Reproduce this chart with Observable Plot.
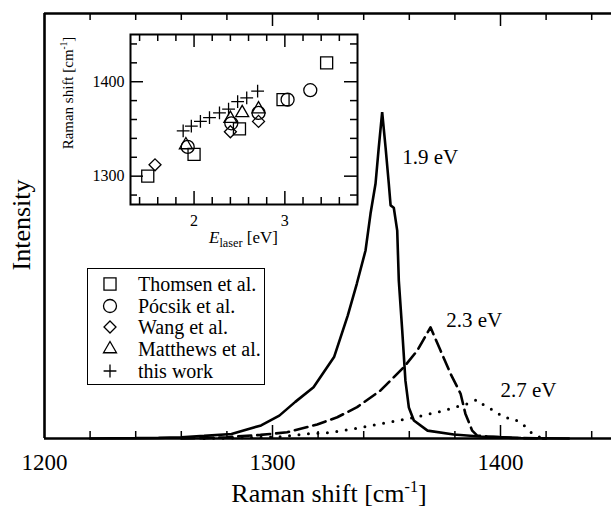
<!DOCTYPE html>
<html><head><meta charset="utf-8">
<script src="https://cdn.jsdelivr.net/npm/d3@7"></script>
<script src="https://cdn.jsdelivr.net/npm/@observablehq/plot@0.6"></script>
<style>
html,body{margin:0;padding:0;background:#fff;overflow:hidden;}
#wrap{position:relative;width:611px;height:512px;overflow:hidden;font-family:"Liberation Serif","Times New Roman",serif;color:#000;}
#wrap > svg{position:absolute;}
.lbl{position:absolute;white-space:nowrap;line-height:1;font-family:"Liberation Serif","Times New Roman",serif;}
.sup{font-size:0.62em;position:relative;top:-0.62em;}
.sub{font-size:0.72em;position:relative;top:0.3em;}
#legend{position:absolute;box-sizing:border-box;border:1.5px solid #000;background:#fff;}
.lrow{position:absolute;white-space:nowrap;line-height:1;font-size:20px;font-family:"Liberation Serif","Times New Roman",serif;}
</style></head><body><div id="wrap"></div>
<script>
// ---------------- data: main spectra (Raman shift in cm^-1, intensity a.u.) ----------------
const shift19 = [1220,1240,1250,1260,1270,1282,1295,1303,1310,1318,1327,1333,1337,1340.8,1343,1345.2,1346.6,1348.1,1349.6,1351,1351.8,1353.2,1354.7,1355.4,1356.9,1358.3,1359.8,1362,1368,1379.5,1391,1409,1430];
const int19   = [0,0.001,0.002,0.004,0.008,0.014,0.040,0.070,0.112,0.157,0.249,0.376,0.474,0.575,0.688,0.780,0.890,0.998,0.890,0.780,0.713,0.706,0.636,0.483,0.330,0.177,0.095,0.055,0.024,0.012,0.006,0.0015,0];

const shift23 = [1260,1270,1280,1294.7,1306.4,1319.6,1328.4,1337.1,1347.4,1357.6,1363.5,1369.3,1373.7,1378.1,1382.5,1384.6,1387.6,1389.8,1394.2,1405,1420];
const int23   = [0,0.001,0.004,0.011,0.019,0.043,0.065,0.096,0.147,0.218,0.269,0.340,0.269,0.198,0.137,0.076,0.024,0.009,0.006,0.002,0];

const shift27 = [1270,1280,1290,1303.5,1315.2,1325.4,1340,1359,1372.2,1385.4,1389.8,1393.4,1397.1,1401.4,1405.8,1409.9,1412.9,1416.2,1420];
const int27   = [0,0.001,0.003,0.005,0.014,0.018,0.035,0.060,0.080,0.106,0.119,0.098,0.086,0.064,0.061,0.043,0.021,0.006,0];

const peakLabels = ["1.9 eV","2.3 eV","2.7 eV"];
const peakLabelX = [1356.9,1376.2,1400];
const peakLabelY = [0.86,0.361,0.147];

const mainTickLabels = [1200,1300,1400];
const mainMajorTicks = [1300,1400];
const mainMinorTicks = [1220,1240,1260,1280,1320,1340,1360,1380,1420,1440];

// ---------------- data: inset (laser energy in eV, Raman shift in cm^-1) ----------------
const thomsenE  = [1.49,2.00,2.50,2.98,3.46];
const thomsenW  = [1300,1323,1350,1381,1420];
const pocsikE   = [1.93,2.41,2.71,3.03,3.28];
const pocsikW   = [1331,1356,1367,1381,1391];
const wangE     = [1.57,2.40,2.71];
const wangW     = [1312,1347,1358];
const matthewsE = [1.91,2.40,2.53,2.71];
const matthewsW = [1333,1361,1367,1371];
const thisE     = [1.88,1.97,2.07,2.17,2.28,2.38,2.48,2.58,2.70];
const thisW     = [1348,1353,1358,1362,1367,1371,1379,1383,1390];

const insetXTickLabels = [2,3];
const insetXMajor = [2,3];
const insetXMinor = [1.4,1.6,1.8,2.2,2.4,2.6,2.8,3.2,3.4,3.6];
const insetYTickLabels = [1300,1400];
const insetYMajor = [1300,1400];
const insetYMinor = [1280,1320,1340,1360,1380,1420,1440];

const seriesNames = ["Thomsen et al.","Pócsik et al.","Wang et al.","Matthews et al.","this work"];

// ---------------- build ----------------
const rows = (xs, ys) => xs.map((x,i)=>({x, y: ys[i]}));
const wrap = document.getElementById("wrap");
const serif = "'Liberation Serif','Times New Roman',serif";

// main plot
const W = 611, H = 512, mTop = 13, mBottom = 74, mLeft = 44;
const xDom = [1200,1450], yDom = [0,1.3];
const xRange = [44,614];
const kY = (yDom[1]-yDom[0])/(H - mTop - mBottom);   // data units per pixel (y)
const major = 13, minor = 7;

const main = Plot.plot({
  width: W, height: H, marginLeft: mLeft, marginTop: mTop, marginBottom: mBottom, marginRight: 0,
  x: {domain: xDom, range: xRange, axis: null},
  y: {domain: yDom, axis: null},
  style: {fontFamily: serif, background: "transparent", color: "#000"},
  marks: [
    Plot.line(rows(shift27,int27), {x:"x", y:"y", stroke:"#000", strokeWidth:3, strokeDasharray:"0,9.5", strokeLinecap:"round"}),
    Plot.line(rows(shift23,int23), {x:"x", y:"y", stroke:"#000", strokeWidth:2.6, strokeDasharray:"13,6"}),
    Plot.line(rows(shift19,int19), {x:"x", y:"y", stroke:"#000", strokeWidth:2.6, strokeLinejoin:"miter"}),
    // ticks (inward) bottom & top
    Plot.ruleX(mainMajorTicks, {x:d=>d, y1:yDom[0], y2:yDom[0]+major*kY, stroke:"#000", strokeWidth:1.5}),
    Plot.ruleX(mainMinorTicks, {x:d=>d, y1:yDom[0], y2:yDom[0]+minor*kY, stroke:"#000", strokeWidth:1.5}),
    Plot.ruleX(mainMajorTicks, {x:d=>d, y1:yDom[1], y2:yDom[1]-major*kY, stroke:"#000", strokeWidth:1.5}),
    Plot.ruleX(mainMinorTicks, {x:d=>d, y1:yDom[1], y2:yDom[1]-minor*kY, stroke:"#000", strokeWidth:1.5}),
    // frame
    Plot.ruleY([yDom[0], yDom[1]], {stroke:"#000", strokeWidth:2.6}),
    Plot.ruleX([xDom[0], xDom[1]], {stroke:"#000", strokeWidth:2.6}),
    // tick labels
    Plot.text(mainTickLabels, {x:d=>d, text:d=>String(d), frameAnchor:"bottom", dy:24, fontSize:23, lineAnchor:"middle", fill:"#000"}),
    // peak labels
    Plot.text(peakLabels.map((t,i)=>({t, x:peakLabelX[i], y:peakLabelY[i]})), {x:"x", y:"y", text:"t", textAnchor:"start", lineAnchor:"middle", fontSize:21, fill:"#000"})
  ]
});
main.style.left = "0px"; main.style.top = "0px";
wrap.appendChild(main);

// inset plot
const iW = 310, iH = 240, iLeft = 60, iTop = 20;
const iml = 70, imr = 13, imt = 14, imb = 56;
const ixDom = [1.3,3.8], iyDom = [1270,1450];
const ikX = (ixDom[1]-ixDom[0])/(iW-iml-imr);
const ikY = (iyDom[1]-iyDom[0])/(iH-imt-imb);
const mk = {stroke:"#000", strokeWidth:1.3, fill:"none"};
const inset = Plot.plot({
  width: iW, height: iH, marginLeft: iml, marginRight: imr, marginTop: imt, marginBottom: imb,
  x: {domain: ixDom, axis: null},
  y: {domain: iyDom, axis: null},
  style: {fontFamily: serif, background: "transparent", color: "#000"},
  marks: [
    Plot.frame({stroke:"#000", strokeWidth:2}),
    // x ticks bottom/top
    Plot.ruleX(insetXMajor, {x:d=>d, y1:iyDom[0], y2:iyDom[0]+major*ikY, stroke:"#000", strokeWidth:1.5}),
    Plot.ruleX(insetXMinor, {x:d=>d, y1:iyDom[0], y2:iyDom[0]+minor*ikY, stroke:"#000", strokeWidth:1.5}),
    Plot.ruleX(insetXMajor, {x:d=>d, y1:iyDom[1], y2:iyDom[1]-major*ikY, stroke:"#000", strokeWidth:1.5}),
    Plot.ruleX(insetXMinor, {x:d=>d, y1:iyDom[1], y2:iyDom[1]-minor*ikY, stroke:"#000", strokeWidth:1.5}),
    // y ticks left/right
    Plot.ruleY(insetYMajor, {y:d=>d, x1:ixDom[0], x2:ixDom[0]+major*ikX, stroke:"#000", strokeWidth:1.5}),
    Plot.ruleY(insetYMinor, {y:d=>d, x1:ixDom[0], x2:ixDom[0]+minor*ikX, stroke:"#000", strokeWidth:1.5}),
    Plot.ruleY(insetYMajor, {y:d=>d, x1:ixDom[1], x2:ixDom[1]-major*ikX, stroke:"#000", strokeWidth:1.5}),
    Plot.ruleY(insetYMinor, {y:d=>d, x1:ixDom[1], x2:ixDom[1]-minor*ikX, stroke:"#000", strokeWidth:1.5}),
    // tick labels
    Plot.text(insetXTickLabels, {x:d=>d, text:d=>String(d), frameAnchor:"bottom", dy:16, fontSize:16, lineAnchor:"middle", fill:"#000"}),
    Plot.text(insetYTickLabels, {y:d=>d, text:d=>String(d), frameAnchor:"left", dx:-6, fontSize:16, textAnchor:"end", lineAnchor:"middle", fill:"#000"}),
    // data
    Plot.dot(rows(thomsenE,thomsenW), {x:"x", y:"y", symbol:"square", r:6.8, ...mk}),
    Plot.dot(rows(pocsikE,pocsikW), {x:"x", y:"y", symbol:"circle", r:6.5, ...mk}),
    Plot.dot(rows(wangE,wangW), {x:"x", y:"y", symbol:"diamond2", r:5.4, ...mk}),
    Plot.dot(rows(matthewsE,matthewsW), {x:"x", y:"y", symbol:"triangle2", r:6.2, ...mk}),
    Plot.dot(rows(thisE,thisW), {x:"x", y:"y", symbol:"plus", r:4.2, ...mk})
  ]
});
inset.style.left = iLeft + "px"; inset.style.top = iTop + "px";
wrap.appendChild(inset);

// axis titles (HTML, for super/subscripts)
function label(html, css) {
  const d = document.createElement("div");
  d.className = "lbl"; d.innerHTML = html;
  Object.assign(d.style, css);
  wrap.appendChild(d);
  return d;
}
label('Intensity', {left:"22px", top:"225px", fontSize:"26px", transform:"translate(-50%,-50%) rotate(-90deg)"});
label('Raman shift [cm<span class="sup">-1</span>]', {left:"329px", top:"481px", fontSize:"26px", transform:"translateX(-50%)"});
label('Raman shift [cm<span class="sup">-1</span>]', {left:"68px", top:"93px", fontSize:"15px", transform:"translate(-50%,-50%) rotate(-90deg)"});
label('<i>E</i><span class="sub">laser</span> [eV]', {left:"243.5px", top:"229px", fontSize:"17px", transform:"translateX(-50%)"});

// legend
const legend = document.createElement("div");
legend.id = "legend";
Object.assign(legend.style, {left:"87px", top:"268px", width:"178px", height:"117px"});
wrap.appendChild(legend);
const legendSymbols = [[d3.symbolSquare,6.8],[d3.symbolCircle,6.5],[d3.symbolDiamond2,5.4],[d3.symbolTriangle2,6.2],[d3.symbolPlus,4.2]];
seriesNames.forEach((name,i)=>{
  const cy = 15 + i*21.7;
  const [type, r] = legendSymbols[i];
  const path = d3.symbol(type, Math.PI*r*r)();
  const s = document.createElementNS("http://www.w3.org/2000/svg","svg");
  s.setAttribute("width", 20); s.setAttribute("height", 20);
  s.style.position = "absolute"; s.style.left = (22-10) + "px"; s.style.top = (cy-10) + "px";
  s.innerHTML = `<path d="${path}" transform="translate(10,10)" fill="none" stroke="#000" stroke-width="1.3"/>`;
  legend.appendChild(s);
  const t = document.createElement("div");
  t.className = "lrow"; t.textContent = name;
  Object.assign(t.style, {left:"50px", top:(cy-10)+"px"});
  legend.appendChild(t);
});
</script></body></html>
